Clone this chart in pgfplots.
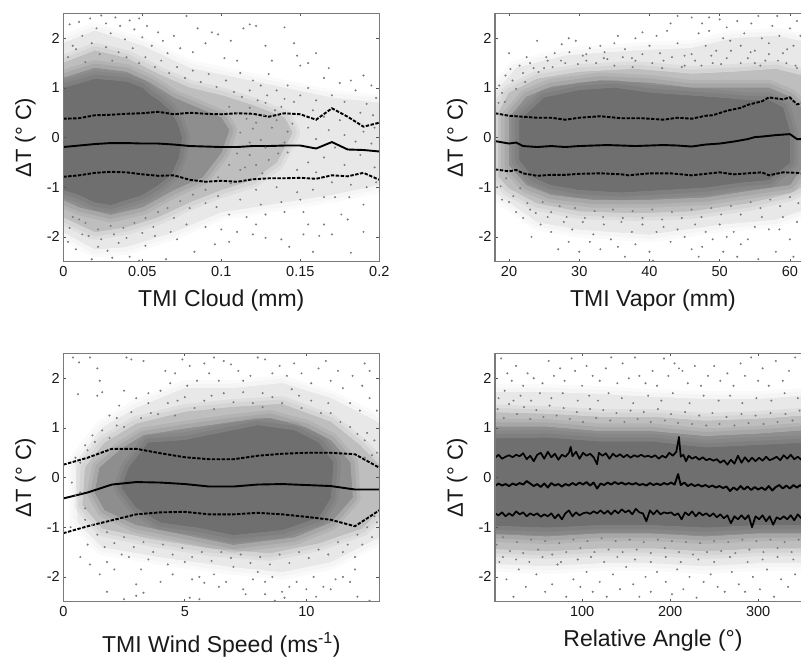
\documentclass[border=0pt]{standalone}
\usepackage{fontspec}
\setmainfont{Liberation Sans}
\usepackage{pgfplots}
\pgfplotsset{compat=1.18}
\definecolor{cA}{HTML}{6F6F6F}
\definecolor{cB}{HTML}{8E8E8E}
\definecolor{cC}{HTML}{BEBEBE}
\definecolor{cD}{HTML}{E8E8E8}
\definecolor{dot}{HTML}{7C7C7C}
\definecolor{frame}{HTML}{7A7A7A}
\pgfplotsset{
 pnl/.style={scale only axis,anchor=south west,width=316pt,height=248.2pt,
  ymin=-2.5,ymax=2.5,ytick={-2,-1,0,1,2},yticklabels={-2,-1,0,1,2},
  axis on top,tick align=inside,major tick length=3pt,
  axis line style={frame,line width=1.1pt},tick style={frame!70!black,line width=.7pt},
  tick label style={font=\fontsize{14.5}{16}\selectfont,text=black!90},
  xticklabel style={yshift=-1pt},
  ylabel={ΔT (° C)},
  ylabel style={at={(axis description cs:-0.12,0.5)},anchor=center,font=\fontsize{22}{24}\selectfont,text=black!90},
  xlabel style={at={(axis description cs:0.5,-0.155)},anchor=center,font=\fontsize{23}{25}\selectfont,text=black!90}},
 env/.style={fill=#1,draw=none,forget plot,line join=round,
  preaction={draw=#1,line width=16pt,draw opacity=.22,line join=round},
  preaction={draw=#1,line width=9pt,draw opacity=.3,line join=round}},
 pts/.style={only marks,mark=*,mark size=0.8pt,color=dot,mark options={draw=none,fill=dot}},
 mn/.style={black,line width=1.9pt,line join=round},
 bd/.style={black,line width=1.9pt,dash pattern=on 3.4pt off 1.5pt}
}
\begin{document}
\begin{tikzpicture}[x=1pt,y=1pt]
\useasboundingbox (0,0) rectangle (801,658);
\clip (0,0) rectangle (801,658);
% ---------- TMI Cloud
\begin{axis}[pnl,at={(63.3pt,396.3pt)},xmin=0,xmax=0.2,xtick={0,0.05,0.1,0.15,0.2},xticklabels={0,0.05,0.1,0.15,0.2},xlabel={TMI Cloud (mm)}]
\addplot[env=cD] coordinates {(0,1.9)(.02,2.15)(.05,1.85)(.08,1.4)(.11,1.2)(.14,1.0)(.17,.8)(.2,.7)(.2,-.95)(.17,-1.15)(.14,-1.3)(.1,-1.5)(.07,-1.9)(.04,-2.2)(.02,-2.25)(0,-1.9)} -- cycle;
\addplot[env=cC] coordinates {(0,1.5)(.02,1.75)(.04,1.6)(.06,1.28)(.08,1.0)(.1,.85)(.12,.65)(.14,.4)(.145,.1)(.135,-.5)(.12,-.85)(.1,-1.05)(.08,-1.3)(.06,-1.6)(.04,-1.8)(.02,-1.9)(0,-1.6)} -- cycle;
\addplot[env=cB] coordinates {(0,1.2)(.02,1.4)(.04,1.32)(.055,1.1)(.07,.8)(.085,.6)(.1,.4)(.105,.15)(.1,-.3)(.088,-.8)(.07,-1.05)(.05,-1.4)(.03,-1.55)(.01,-1.4)(0,-1.25)} -- cycle;
\addplot[env=cA] coordinates {(0,1.0)(.01,1.08)(.02,1.18)(.03,1.15)(.04,1.12)(.05,1.0)(.055,.85)(.06,.75)(.067,.55)(.072,.3)(.075,.0)(.073,-.4)(.068,-.75)(.06,-.95)(.05,-1.15)(.04,-1.25)(.03,-1.35)(.02,-1.3)(.01,-1.15)(0,-1.05)} -- cycle;
\addplot[pts] coordinates {(.004,2.28)(.010,2.33)(.012,2.05)(.006,1.85)(.017,2.4)(.021,2.2)(.024,2.46)(.027,2.3)(.03,2.1)(.033,2.42)(.036,2.25)(.039,1.98)(.042,2.36)(.045,2.18)(.048,2.4)(.05,2.02)(.053,2.25)(.056,1.85)(.06,2.12)(.063,1.95)(.066,1.7)(.07,2.05)(.074,1.8)(.078,2.45)(.082,1.72)(.085,2.2)(.09,1.9)(.094,2.12)(.098,2.08)(.102,1.6)(.106,1.95)(.11,1.55)(.114,2.2)(.118,2.28)(.122,2.25)(.128,1.85)(.132,1.55)(.14,2.22)(.146,1.9)(.148,1.65)(.15,1.45)(.155,1.5)(.16,1.7)(.165,1.2)(.168,1.4)(.175,1.1)(.182,1.15)(.19,1.25)(.195,1.05)
(.112,1.3)(.12,1.15)(.125,1.05)(.13,1.28)(.135,.95)(.142,1.05)(.15,.85)(.155,1.0)(.16,.75)(.17,.85)(.178,.72)(.185,.95)(.192,.68)(.198,.8)(.118,.6)(.128,.7)(.138,.62)(.146,.72)(.158,.55)(.165,.42)(.175,.35)(.188,.5)(.196,.45)(.122,.3)(.132,.2)(.145,.28)(.155,.2)(.168,.15)(.178,.05)(.19,.12)(.197,.2)(.125,-.05)(.14,-.1)(.16,-.03)(.172,-.2)(.185,-.08)(.195,-.12)
(.118,-.35)(.13,-.45)(.142,-.3)(.155,-.5)(.165,-.4)(.178,-.55)(.188,-.35)(.197,-.6)(.112,-.65)(.126,-.72)(.148,-.65)(.16,-.7)(.17,-.9)(.182,-.95)(.192,-1.0)(.198,-.9)(.122,-1.05)(.135,-1.0)(.148,-1.1)(.158,-1.05)(.165,-1.2)(.172,-1.2)(.181,-1.2)(.19,-1.35)(.112,-1.25)(.125,-1.35)(.138,-1.3)(.15,-1.25)(.097,-1.4)(.105,-1.55)(.116,-1.6)(.128,-1.55)(.14,-1.5)(.152,-1.5)(.176,-1.55)(.18,-1.65)
(.003,-2.1)(.008,-2.25)(.012,-1.95)(.018,-2.45)(.022,-2.2)(.028,-2.28)(.031,-2.42)(.035,-2.12)(.042,-2.4)(.048,-2.48)(.052,-2.18)(.058,-1.98)(.065,-2.45)(.068,-1.9)(.072,-2.05)(.078,-1.75)(.083,-2.3)(.09,-1.8)(.096,-2.15)(.1,-1.85)(.105,-2.1)(.11,-1.9)(.12,-1.95)(.122,-1.75)(.128,-2.02)(.138,-2.05)(.143,-2.2)(.152,-1.95)(.155,-1.75)(.158,-2.3)(.162,-1.98)(.165,-1.75)(.17,-1.95)(.182,-2.32)(.19,-1.9)
(.003,1.62)(.008,1.78)(.014,1.52)(.018,1.9)(.023,1.68)(.027,1.82)(.031,1.55)(.035,1.72)(.04,1.62)(.044,1.8)(.048,1.5)(.052,1.62)(.058,1.42)(.062,1.55)(.067,1.3)(.072,1.42)(.077,1.2)(.082,1.35)(.087,1.12)(.092,1.28)(.097,1.02)(.103,1.15)(.108,.92)(.113,.82)(.118,.95)(.123,.75)(.129,.85)(.134,.55)(.14,.78)(.105,.62)(.11,.5)(.116,.38)(.12,.18)(.127,.45)(.135,.35)(.142,.12)(.112,.1)(.118,-.1)(.128,-.2)(.136,-.32)(.11,-.32)(.105,-.55)(.115,-.6)(.122,-.55)(.098,-.8)(.106,-.92)(.114,-.88)(.09,-1.05)(.098,-1.18)(.082,-1.15)(.074,-1.28)(.08,-1.42)(.09,-1.32)(.066,-1.42)(.07,-1.62)(.06,-1.5)(.052,-1.62)(.057,-1.8)(.045,-1.72)(.05,-1.92)(.038,-1.82)(.04,-2.02)(.03,-1.78)(.032,-1.95)(.022,-1.85)(.024,-2.05)(.014,-1.72)(.016,-1.98)(.006,-1.6)(.004,-1.82)(.01,-1.65)};
\addplot[bd] coordinates {(0,.38)(.01,.39)(.02,.45)(.03,.46)(.04,.48)(.05,.49)(.06,.52)(.07,.47)(.08,.5)(.09,.48)(.10,.47)(.11,.49)(.12,.48)(.13,.42)(.14,.49)(.15,.47)(.16,.36)(.17,.59)(.18,.42)(.19,.22)(.2,.30)};
\addplot[bd] coordinates {(0,-.79)(.01,-.76)(.02,-.71)(.03,-.69)(.04,-.7)(.05,-.74)(.06,-.77)(.07,-.76)(.08,-.85)(.09,-.89)(.10,-.87)(.11,-.89)(.12,-.84)(.13,-.82)(.14,-.82)(.15,-.81)(.16,-.83)(.17,-.76)(.18,-.78)(.19,-.71)(.2,-.85)};
\addplot[mn] coordinates {(0,-.19)(.01,-.16)(.02,-.13)(.03,-.11)(.04,-.11)(.05,-.12)(.06,-.12)(.07,-.14)(.08,-.17)(.09,-.18)(.10,-.19)(.11,-.19)(.12,-.17)(.13,-.17)(.14,-.16)(.15,-.16)(.16,-.22)(.17,-.09)(.18,-.24)(.19,-.25)(.2,-.28)};
\end{axis}
% ---------- TMI Vapor
\begin{axis}[pnl,at={(495pt,396.3pt)},xmin=18,xmax=63,xtick={20,30,40,50,60},xticklabels={20,30,40,50,60},xlabel={TMI Vapor (mm)}]
\addplot[env=cD] coordinates {(18,.9)(21,1.4)(28,1.65)(38,1.75)(46,1.8)(52,2.0)(58,2.05)(63,1.9)(63,-1.4)(58,-1.65)(50,-1.75)(40,-1.95)(30,-1.85)(24,-1.7)(20,-1.3)(18,-1.1)} -- cycle;
\addplot[env=cC] coordinates {(18.5,.5)(20,.9)(24,1.18)(30,1.32)(38,1.38)(46,1.28)(52,1.32)(58,1.38)(63,1.2)(63,-.9)(60,-1.12)(54,-1.32)(46,-1.48)(38,-1.52)(30,-1.48)(24,-1.32)(20,-1.02)(18.5,-.78)} -- cycle;
\addplot[env=cB] coordinates {(20,.4)(22.5,.82)(26,1.02)(33,1.15)(40,1.1)(46,1.0)(52,1.0)(57,1.0)(60,.82)(62,.55)(62,-.55)(60,-.95)(55,-1.05)(48,-1.2)(40,-1.25)(32,-1.25)(26,-1.15)(22.5,-.95)(20,-.55)} -- cycle;
\addplot[env=cA] coordinates {(21.5,.35)(23.5,.6)(25,.8)(30,.95)(35,1.0)(40,.9)(45,.85)(50,.8)(54,.75)(57,.75)(59,.6)(60,.1)(60,-.5)(57,-.85)(53,-.9)(48,-1.0)(42,-1.05)(36,-1.1)(30,-1.05)(26,-.95)(23.5,-.8)(21.5,-.45)} -- cycle;
\addplot[pts] coordinates {(19.5,1.25)(20,1.7)(21.5,1.45)(22.5,1.62)(24,1.95)(25.5,1.55)(26.5,1.7)(27.5,1.88)(28.5,2.0)(29.5,1.95)(30.5,1.65)(31.5,1.8)(33,1.85)(33.5,1.6)(35,1.9)(35.5,2.05)(36.5,1.78)(37.5,1.6)(38,2.0)(39,2.12)(40,1.85)(41,2.05)(41.5,1.7)(42.5,2.15)(43,2.3)(44,1.9)(45,1.65)(46,2.42)(47,2.1)(47.5,2.3)(48,1.85)(48.5,2.15)(49.5,1.75)(50,2.38)(50.5,2.0)(51.5,1.95)(52.5,2.35)(53,1.85)(53.5,2.1)(54.5,2.3)(55,1.75)(55.5,2.45)(56,2.0)(57,1.9)(57.5,2.25)(58.2,2.45)(58.5,2.05)(59,1.7)(60,2.2)(60.5,1.85)(61,2.35)(61.5,2.05)(62,1.65)(62.7,1.95)(44,2.45)(48.5,2.42)(51,2.22)(54,1.6)(59.5,1.5)(46.5,1.55)(49,1.5)(51,1.6)(56.5,1.55)
(19,.9)(20.5,1.15)(18.5,.7)(22,1.3)(23.5,1.4)(25,1.4)(28,1.5)(31,1.55)(34,1.58)(38,1.55)(42,1.55)(45,1.45)(55,1.5)(61,1.4)(62.5,1.3)
(18.3,-1.0)(19,-1.25)(20,-1.3)(21,-1.5)(22,-1.62)(23,-1.45)(23.2,-2.0)(24.5,-1.75)(25.5,-1.6)(26,-1.9)(27,-2.25)(27.8,-1.7)(28.5,-2.1)(29,-1.85)(30,-2.3)(30.5,-1.7)(31.5,-2.1)(32,-1.95)(33,-2.25)(33.5,-1.75)(34.5,-2.05)(35.5,-2.2)(36,-1.7)(36.5,-2.4)(37.5,-1.9)(38,-2.15)(39,-1.75)(40,-2.3)(40.5,-2.48)(41,-1.9)(42,-1.8)(43,-2.1)(44,-1.85)(45,-2.0)(46,-2.25)(46.5,-1.75)(47,-2.4)(47.5,-2.2)(48,-1.9)(49,-2.05)(50,-1.75)(50.5,-2.3)(51,-2.0)(52,-1.9)(52.5,-2.4)(53,-2.15)(54,-2.05)(55,-1.8)(55.5,-2.45)(56,-1.6)(57,-1.85)(58,-2.3)(58.5,-1.85)(59,-1.6)(60,-2.05)(60.5,-2.4)(61,-1.7)(62,-2.05)(62.5,-1.8)
(18.6,1.05)(19.4,.72)(20.2,1.38)(21,.98)(22.3,1.12)(23,1.5)(24.2,1.32)(25.3,1.62)(26.2,1.42)(27.4,1.55)(28.6,1.72)(29.8,1.48)(31,1.68)(32.4,1.5)(33.6,1.72)(35,1.45)(36.2,1.62)(37.6,1.42)(39,1.68)(40.4,1.5)(41.8,1.4)(43.2,1.62)(44.6,1.42)(46,1.68)(47.4,1.45)(48.8,1.65)(50.2,1.48)(51.6,1.75)(53,1.5)(54.4,1.72)(55.8,1.45)(57,1.68)(58.3,1.55)(59.6,1.78)(60.8,1.45)(62,1.55)(62.6,1.05)
(18.8,-.98)(19.6,-.82)(20.6,-1.18)(21.6,-1.02)(22.6,-1.32)(23.8,-1.52)(24.8,-1.3)(26,-1.5)(27.2,-1.38)(28.2,-1.6)(29.4,-1.42)(30.8,-1.62)(32.2,-1.48)(33.4,-1.6)(34.8,-1.45)(36.2,-1.62)(37.6,-1.48)(39,-1.62)(40.4,-1.45)(41.8,-1.65)(43.2,-1.5)(44.6,-1.62)(46,-1.45)(47.4,-1.6)(48.8,-1.42)(50.2,-1.55)(51.6,-1.38)(53,-1.55)(54.4,-1.3)(55.8,-1.42)(57.2,-1.25)(58.6,-1.38)(60,-1.2)(61.2,-1.32)(62.4,-1.15)};
\addplot[bd] coordinates {(18,.49)(20,.44)(22,.42)(24,.4)(26,.4)(28,.36)(30,.4)(33,.43)(36,.39)(39,.39)(42,.36)(44,.4)(46,.38)(48,.44)(49,.45)(51,.54)(53,.6)(54,.66)(56,.73)(57,.81)(59,.77)(60,.81)(61,.67)(62,.7)(63,.72)};
\addplot[bd] coordinates {(18,-.64)(20,-.68)(21,-.65)(22,-.72)(24,-.77)(26,-.75)(28,-.75)(30,-.73)(33,-.72)(36,-.74)(37,-.76)(40,-.72)(43,-.72)(46,-.76)(48,-.73)(50,-.7)(52,-.74)(54,-.72)(56,-.7)(57,-.76)(59,-.7)(61,-.71)(63,-.75)};
\addplot[mn] coordinates {(18,-.07)(20,-.12)(21,-.1)(22,-.17)(24,-.19)(26,-.17)(28,-.19)(30,-.17)(32,-.16)(34,-.15)(36,-.16)(38,-.17)(40,-.16)(42,-.15)(44,-.16)(46,-.18)(48,-.14)(50,-.12)(52,-.08)(54,-.03)(55,.01)(56,.02)(58,.05)(60,.07)(61,-.03)(62,-.03)(63,-.02)};
\end{axis}
% ---------- TMI Wind Speed
\begin{axis}[pnl,at={(63.3pt,56.3pt)},xmin=0,xmax=13,xtick={0,5,10},xticklabels={0,5,10},xlabel={TMI Wind Speed (ms\textsuperscript{-1})},xlabel style={at={(axis description cs:0.5,-0.175)}}]
\addplot[env=cD] coordinates {(.5,.3)(1.6,1.0)(3,1.4)(5,1.8)(7,1.8)(9,1.9)(11,1.6)(13,1.1)(13,-1.2)(11,-1.7)(9,-1.9)(7,-1.8)(4,-1.6)(1.6,-1.4)(.6,-.9)} -- cycle;
\addplot[env=cC] coordinates {(.9,.2)(1.7,.7)(3,1.08)(5,1.32)(7,1.42)(9,1.48)(11,1.12)(12.2,.65)(13,.25)(13,-.65)(12.3,-1.02)(10.5,-1.32)(8.5,-1.52)(6,-1.42)(3.5,-1.22)(1.6,-1.02)(.8,-.55)} -- cycle;
\addplot[env=cB] coordinates {(1.5,.2)(2.4,.58)(3.3,.85)(5,.98)(7,1.12)(8.5,1.2)(10,1.0)(11,.75)(11.8,.3)(11.9,-.4)(11,-.9)(9.5,-1.2)(7,-1.35)(5,-1.15)(3,-.95)(1.7,-.65)(1.3,-.3)} -- cycle;
\addplot[env=cA] coordinates {(2.7,.2)(3.5,.7)(5,.75)(6.5,.9)(8,1.05)(9.5,.95)(10.5,.7)(11.1,.3)(11,-.4)(10.5,-.8)(9,-1.05)(7,-1.15)(5.5,-1.0)(4,-.9)(3,-.6)(2.4,-.2)} -- cycle;
\addplot[pts] coordinates {(.4,2.42)(.65,2.32)(1.1,2.42)(1.4,2.2)(1.5,1.95)(1.6,1.72)(.6,1.68)(1.4,1.65)(2.6,2.42)(2.8,2.38)(3.3,2.35)(3.5,1.7)(2.5,1.75)(2.3,1.45)(3,1.6)(4,1.75)(4.2,2.15)(4.4,1.9)(4.6,2.1)(4.9,2.38)(5.2,2.25)(5.5,1.95)(5.1,1.85)(5.8,2.3)(6,2.1)(6.2,2.42)(6.4,1.95)(6.6,2.35)(6.9,2.28)(7.2,2.15)(7.4,1.95)(7.7,2.05)(8,2.42)(8.3,2.38)(8.6,2.1)(8.9,2.25)(9.2,2.05)(9.5,2.3)(9.8,2.1)(10.2,1.9)(10.5,2.2)(10.8,2.35)(11,1.95)(11.3,2.15)(11.5,1.8)(11.9,2.05)(12.3,1.85)(12.4,2.3)(12.6,1.6)(12.9,1.35)(12.2,1.35)(11.8,1.5)(12.6,2.15)(3.6,1.3)(2.2,1.05)(1.9,1.25)(1.2,.85)(.9,.65)(.5,.4)(4.7,1.55)(6.1,1.65)(8.2,1.7)(9.7,1.65)(10.9,1.5)
(12.5,.9)(12.8,.75)(12.9,.5)(12.4,.4)(12.9,-.9)(12.7,-1.2)(12.3,-1.35)(12,-1.6)(11.5,-1.5)
(.3,-1.0)(.7,-1.6)(1,-1.35)(1.1,-1.75)(1.5,-1.95)(1.8,-1.7)(2.1,-1.85)(2.4,-1.55)(2.7,-1.6)(3,-2.15)(3.2,-1.85)(3.5,-1.65)(4,-2.1)(4.3,-1.75)(4.5,-1.95)(5,-1.7)(5.3,-2.05)(5.6,-2.0)(5.8,-2.12)(6.2,-1.95)(6.4,-2.2)(6.7,-2.1)(7,-1.8)(7.4,-2.25)(7.8,-2.05)(8,-1.9)(8.3,-2.1)(8.6,-2.0)(9,-2.3)(9.3,-2.2)(9.6,-2.1)(10,-2.25)(10.3,-2.0)(10.7,-2.2)(11,-2.25)(11.2,-2.05)(11.5,-2.0)(11.8,-2.1)(12,-1.85)
(1.8,-2.3)(2.5,-2.45)(3.3,-2.32)(5.2,-2.42)(8.3,-2.35)(8.7,-2.48)(9.1,-2.42)(10.4,-2.4)(12.1,-2.4)(12.6,-2.48)(3,-2.38)(5.6,-2.45)(7.5,-2.35)(1.7,-1.4)(.9,-.85)(.5,-.35)(.35,-.1)
(.7,.3)(1,.55)(1.3,.72)(1.6,.95)(1.9,.8)(2.2,1.2)(2.5,1.02)(2.8,1.32)(3.2,1.2)(3.5,1.5)(3.9,1.28)(4.3,1.5)(4.6,1.25)(5,1.62)(5.4,1.4)(5.8,1.55)(6.2,1.38)(6.6,1.7)(7,1.52)(7.4,1.72)(7.8,1.5)(8.2,1.42)(8.6,1.62)(9,1.5)(9.4,1.78)(9.8,1.4)(10.2,1.55)(10.6,1.3)(11,1.3)(11.4,1.12)(11.8,1.02)(12.1,.88)(12.4,.75)(12.7,.45)
(.7,-.3)(.9,-.62)(1.2,-.95)(1.4,-1.15)(1.8,-1.1)(2.1,-1.32)(2.5,-1.2)(2.9,-1.4)(3.3,-1.3)(3.7,-1.5)(4.1,-1.35)(4.5,-1.55)(4.9,-1.42)(5.3,-1.6)(5.7,-1.5)(6.1,-1.68)(6.5,-1.5)(6.9,-1.62)(7.3,-1.55)(7.7,-1.72)(8.1,-1.6)(8.5,-1.75)(8.9,-1.55)(9.3,-1.72)(9.7,-1.5)(10.1,-1.62)(10.5,-1.45)(10.9,-1.55)(11.3,-1.3)(11.7,-1.35)(12.1,-1.15)(12.5,-1.0)(12.8,-.78)};
\addplot[bd] coordinates {(0,.26)(1,.4)(2,.58)(3,.58)(4,.49)(5,.41)(6,.37)(7,.37)(8,.44)(9,.48)(10,.5)(11,.5)(12,.47)(13,.2)};
\addplot[bd] coordinates {(0,-1.12)(1,-.98)(2,-.86)(3,-.74)(4,-.7)(5,-.69)(6,-.74)(7,-.74)(8,-.71)(9,-.74)(10,-.79)(11,-.85)(12,-.98)(13,-.66)};
\addplot[mn] coordinates {(0,-.42)(1,-.3)(2,-.14)(3,-.09)(4,-.1)(5,-.13)(6,-.18)(7,-.18)(8,-.14)(9,-.13)(10,-.15)(11,-.17)(12,-.24)(13,-.24)};
\end{axis}
% ---------- Relative Angle
\begin{axis}[pnl,at={(495pt,56.3pt)},xmin=1,xmax=360,xtick={100,200,300},xticklabels={100,200,300},xlabel={Relative Angle (°)}]
\addplot[env=cD] coordinates {(-20,1.72)(60,1.72)(120,1.68)(180,1.62)(240,1.58)(300,1.58)(380,1.68)(380,-1.72)(300,-1.72)(240,-1.78)(180,-1.72)(120,-1.72)(60,-1.78)(-20,-1.72)} -- cycle;
\addplot[env=cC] coordinates {(-20,1.32)(60,1.28)(120,1.22)(180,1.22)(240,1.14)(300,1.18)(380,1.28)(380,-1.42)(300,-1.42)(240,-1.48)(180,-1.42)(120,-1.42)(60,-1.48)(-20,-1.42)} -- cycle;
\addplot[env=cB] coordinates {(-20,1.02)(60,1.02)(120,.93)(180,.93)(240,.83)(300,.88)(380,.98)(380,-1.12)(300,-1.12)(240,-1.18)(180,-1.12)(120,-1.12)(60,-1.18)(-20,-1.12)} -- cycle;
\addplot[env=cA] coordinates {(-20,.78)(60,.8)(120,.72)(180,.72)(240,.6)(300,.65)(380,.72)(380,-.95)(300,-.95)(240,-1.0)(180,-.95)(120,-.95)(60,-1.0)(-20,-.95)} -- cycle;
\addplot[pts] coordinates {(8,2.4)(15,2.1)(20,1.95)(25,2.25)(33,1.85)(38,2.1)(45,2.0)(55,1.9)(62,2.35)(68,2.05)(75,2.2)(80,1.95)(88,2.4)(92,2.15)(100,1.85)(105,2.25)(112,2.05)(120,1.95)(127,2.2)(133,2.42)(140,1.9)(146,2.3)(153,2.0)(160,2.42)(165,2.05)(172,1.9)(180,2.15)(185,1.85)(193,2.4)(198,2.05)(205,2.3)(210,2.2)(214,2.15)(220,1.9)(228,2.25)(235,1.85)(243,2.05)(250,2.25)(257,1.95)(265,2.1)(272,1.85)(280,2.3)(285,2.05)(292,2.42)(300,1.95)(305,2.2)(312,1.85)(320,2.35)(328,1.95)(335,2.15)(342,2.42)(350,2.05)(357,2.3)
(5,1.6)(12,1.75)(22,1.55)(30,1.65)(42,1.55)(52,1.7)(65,1.6)(78,1.7)(95,1.55)(108,1.65)(118,1.55)(130,1.7)(145,1.6)(158,1.5)(175,1.65)(190,1.55)(203,1.7)(222,1.5)(238,1.65)(255,1.55)(268,1.65)(282,1.5)(298,1.6)(315,1.55)(330,1.7)(345,1.6)(356,1.75)
(6,-1.7)(14,-2.05)(22,-2.4)(28,-1.85)(36,-2.2)(48,-1.95)(58,-2.3)(66,-2.15)(72,-1.75)(82,-2.4)(90,-2.05)(98,-2.2)(105,-1.9)(112,-2.3)(120,-2.1)(128,-2.4)(135,-1.95)(143,-2.25)(150,-1.8)(158,-2.15)(165,-2.4)(172,-2.0)(178,-2.3)(185,-1.9)(195,-2.1)(202,-2.35)(208,-1.85)(215,-2.25)(222,-2.0)(230,-2.42)(238,-2.1)(246,-1.95)(254,-2.2)(262,-2.3)(270,-1.9)(278,-2.15)(285,-2.3)(294,-2.0)(302,-2.25)(310,-1.85)(318,-2.4)(326,-2.05)(334,-2.2)(342,-1.95)(350,-2.3)(358,-2.05)
(10,-1.6)(25,-1.65)(40,-1.7)(55,-1.6)(76,-1.7)(95,-1.65)(110,-1.6)(125,-1.7)(140,-1.6)(160,-1.65)(178,-1.7)(195,-1.6)(212,-1.7)(232,-1.65)(250,-1.7)(268,-1.6)(288,-1.7)(305,-1.65)(322,-1.6)(340,-1.65)(355,-1.6)
(4,1.38)(11,1.2)(17,1.48)(26,1.28)(34,1.42)(41,1.18)(48,1.36)(56,1.22)(63,1.45)(71,1.25)(79,1.4)(86,1.18)(94,1.32)(101,1.12)(109,1.38)(116,1.2)(124,1.36)(132,1.15)(139,1.3)(148,1.12)(155,1.35)(163,1.18)(170,1.32)(178,1.12)(186,1.38)(194,1.15)(201,1.28)(209,1.1)(217,1.32)(225,1.08)(233,1.25)(241,1.05)(248,1.3)(256,1.08)(264,1.22)(273,1.05)(281,1.28)(289,1.1)(297,1.25)(306,1.08)(314,1.3)(322,1.12)(331,1.28)(339,1.15)(347,1.35)(354,1.18)
(3,-1.35)(10,-1.2)(18,-1.48)(26,-1.3)(33,-1.52)(42,-1.25)(50,-1.45)(58,-1.28)(66,-1.55)(74,-1.32)(82,-1.5)(90,-1.25)(98,-1.42)(106,-1.28)(114,-1.5)(122,-1.22)(130,-1.45)(138,-1.28)(146,-1.5)(154,-1.25)(162,-1.45)(170,-1.3)(178,-1.52)(186,-1.25)(194,-1.42)(202,-1.28)(210,-1.5)(218,-1.3)(226,-1.55)(234,-1.32)(242,-1.5)(250,-1.28)(258,-1.48)(266,-1.3)(274,-1.52)(282,-1.25)(290,-1.45)(298,-1.28)(306,-1.5)(314,-1.25)(322,-1.42)(330,-1.3)(338,-1.5)(346,-1.25)(354,-1.42)};
\addplot[black,line width=1.7pt,line join=round] coordinates {(1,.40)(5,.46)(9,.38)(13,.42)(17,.45)(21,.41)(25,.46)(29,.43)(33,.49)(37,.37)(41,.44)(45,.33)(49,.46)(53,.50)(57,.38)(61,.52)(65,.41)(69,.48)(73,.36)(77,.46)(81,.42)(85,.50)(87,.62)(89,.43)(93,.52)(97,.38)(101,.50)(105,.44)(109,.48)(113,.41)(117,.27)(119,.5)(123,.44)(127,.49)(131,.38)(135,.48)(139,.42)(143,.47)(147,.41)(151,.46)(155,.40)(159,.45)(163,.42)(167,.46)(171,.42)(175,.44)(179,.41)(183,.45)(187,.38)(191,.44)(195,.40)(199,.50)(203,.44)(207,.52)(210,.82)(212,.42)(215,.46)(218,.33)(221,.44)(225,.38)(229,.42)(233,.36)(237,.41)(241,.35)(245,.38)(249,.34)(253,.37)(257,.30)(261,.35)(265,.26)(269,.36)(273,.28)(277,.44)(281,.30)(285,.41)(289,.32)(293,.40)(297,.33)(301,.40)(305,.34)(309,.42)(313,.35)(317,.38)(321,.42)(325,.35)(329,.45)(333,.38)(337,.46)(341,.37)(345,.42)(349,.36)(353,.40)(357,.32)(360,.38)};
\addplot[black,line width=1.9pt,line join=round] coordinates {(1,-.17)(5,-.12)(9,-.16)(13,-.13)(17,-.17)(21,-.12)(25,-.15)(29,-.11)(33,-.14)(37,-.07)(41,-.12)(45,-.17)(49,-.13)(53,-.19)(57,-.12)(61,-.2)(65,-.11)(69,-.16)(73,-.13)(77,-.18)(81,-.13)(85,-.16)(89,-.11)(93,-.15)(97,-.1)(101,-.14)(105,-.09)(109,-.16)(113,-.1)(117,-.22)(121,-.12)(125,-.15)(129,-.1)(133,-.14)(137,-.09)(141,-.13)(145,-.1)(149,-.14)(153,-.11)(157,-.14)(161,-.11)(165,-.15)(169,-.13)(173,-.16)(177,-.11)(181,-.15)(185,-.12)(189,-.15)(193,-.11)(197,-.14)(201,-.1)(205,-.14)(209,.07)(212,-.15)(216,-.1)(220,-.17)(224,-.13)(228,-.17)(232,-.14)(236,-.18)(240,-.15)(244,-.19)(248,-.16)(252,-.2)(256,-.17)(260,-.21)(264,-.18)(268,-.27)(272,-.2)(276,-.25)(280,-.17)(284,-.24)(288,-.18)(292,-.25)(296,-.19)(300,-.24)(304,-.2)(308,-.25)(312,-.17)(316,-.26)(320,-.19)(324,-.15)(328,-.22)(332,-.16)(336,-.22)(340,-.15)(344,-.2)(348,-.15)(352,-.21)(356,-.16)(360,-.22)};
\addplot[black,line width=1.7pt,line join=round] coordinates {(1,-.72)(5,-.76)(9,-.7)(13,-.78)(17,-.72)(21,-.77)(25,-.68)(29,-.74)(33,-.7)(37,-.78)(41,-.72)(45,-.76)(49,-.72)(53,-.79)(57,-.74)(61,-.78)(65,-.72)(69,-.82)(73,-.74)(77,-.84)(81,-.72)(85,-.66)(89,-.78)(93,-.7)(97,-.76)(101,-.72)(105,-.7)(109,-.73)(113,-.68)(117,-.72)(121,-.66)(125,-.73)(129,-.67)(133,-.74)(137,-.66)(141,-.72)(145,-.64)(149,-.7)(153,-.66)(157,-.74)(161,-.63)(165,-.7)(169,-.72)(173,-.88)(177,-.66)(181,-.74)(185,-.66)(189,-.74)(193,-.7)(197,-.72)(201,-.7)(205,-.76)(209,-.72)(213,-.84)(217,-.7)(221,-.76)(225,-.68)(229,-.78)(233,-.7)(237,-.76)(241,-.72)(245,-.78)(249,-.72)(253,-.8)(257,-.74)(261,-.82)(265,-.76)(269,-.92)(273,-.78)(277,-.84)(281,-.76)(285,-.84)(289,-.76)(293,-1.0)(297,-.78)(301,-.84)(305,-.76)(309,-.88)(313,-.78)(317,-.95)(321,-.8)(325,-.84)(329,-.78)(333,-.84)(337,-.76)(341,-.86)(345,-.74)(349,-.82)(353,-.72)(357,-.8)(360,-.76)};
\end{axis}
\end{tikzpicture}
\end{document}
